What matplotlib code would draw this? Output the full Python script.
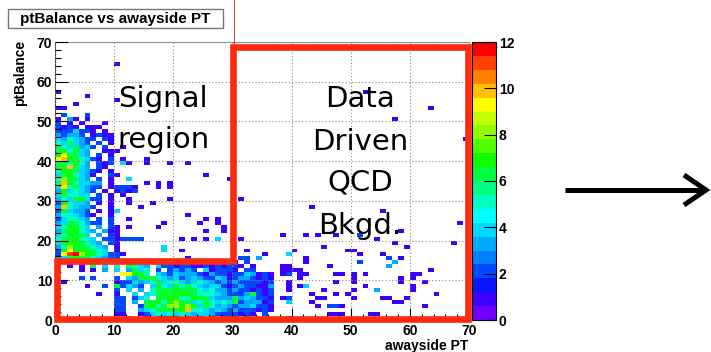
import numpy as np
import matplotlib.pyplot as plt
from matplotlib.colors import ListedColormap, BoundaryNorm
from matplotlib.patches import Rectangle, Polygon
from matplotlib.lines import Line2D

plt.rcParams['font.family'] = ['Liberation Sans', 'DejaVu Sans']
plt.rcParams['font.weight'] = 'bold'

# 2D histogram contents, 70x70 bins of 1 GeV.
# one string per row, top row (ptBalance 69) first, groups of 10 bins split by '|'
# '.' = empty, hex digit = entries (a=10, b=11, c=12)
rows_upper = [
    "", "", "", "", "",
    "|1.........",                          # 64
    "", "", "", "", "", "",
    "1.........|||||..1.......",            # 57
    ".....1....",
    "|1.........",
    "...1......",
    "11........||||||...1......",           # 53
    "",
    ".2...2....",
    "1.31.1....|||||.......1..",            # 50
    "2.1.1...1.",
    "2121.111..",
    "2224221.1.",
    "32332.1211",
    "4354322.21||||||.........1",           # 45
    "546432.2.1",
    "6546342.2.|.1........",
    "675643..11|1.........",
    "796643.2.1",
    "9a765421.2|.1...1....",                # 40
    "765753.212|.41..1...1|..1.......",
    "66a643.21.",
    "57664321.1",
    "4675431..2|1.........|.....1....",
    "586643.2.1|..4.......|.........1",     # 35
    "6a754433.1|.....1.1.1",
    "49564322.1|2221...1.1",
    "3745432.1.|1212......",
    "465544.2.1|.1........",
    "35467422.1|..1......1||.1........",    # 30
    "265443.1.1|..1...1...",
    "3a54332..1|....1.....|||...1......",
    "264332.1.1|4.........||||.....1....",
    "3554321..1||..1.......",
    "245543.2.2|..1.......|.....1.1..",     # 25
    "34665322.2|........1.|....1..1..||||........1.",
    "457654.3.2|1.1....1..|........1.",
    "3667543.31|1.........|.....1..1.|||........1.",
    "457664.3.2|1.........||........1.|..1.1..1..|.2........",
    "5667554.22|12222.....|.1.1.1.4..|.1........||....1.....",   # 20
    "47776543.2|1.........||||.......1..|.......1..",
    "358666543.|1.......4.|||.....1....|.........1",
    "269776654.|1.......4.|.1........|..1.......|1........1|1.........",
    "29bc876542|21........||.....1...4||.1...1....",
    "3467665432|2.........|..1.......|.22.3.....|..1.......|......2.1.",  # 15
]

rows_lower = [
    ".1.2.1242.|3232122332|2223212131|1.2.......|..1.......|.2.....3..",  # 14
    "..1.1.6.4.|5.6543.422|1221121212|21.1....11|......1...|......3...",
    "....1.1.3.|4.3645.2.2|3232.41222|1.22....11|11........||...1......",
    "|.99765.432|4333213221|2243121.12|.11....11.|1.1.......|11........",
    "....2.2...|2.43666543|4234322431|2332121...|.1........|1.......1.|1.........",  # 10
    ".1........|1224345645|5434543232|3222212..1|.......1..|1.......1.|..1.......",
    ".....1..2.|62432.4654|6565434421|2322113..1|.14.......|..1.......|1.........",
    "|2.4.3.5666|7666545332|3221212..1|.....1....|1...3.....|1.........",
    ".......1..|1..4.45676|6776555432|2236212...|...1...1.1||....1.....",
    "|22.245.667|7557664333|6343221.12|....11....|1....11..1",             # 5
    "|22.3.66757|8664565454|6233312..4|...1......|.......11.",
    "|22..267568|8787465343|2334221...|....1.221.||..1.......",
    "|22..345666|67a5543432|3222121...",
    "|11..124545|4543443222|2121.2....|......111.|...11.....",
    "|..1..1.212|1.2.1.1.11|1.1......1",                                  # 0
]

n_bins = 70
signal_pt_cut = 15      # ptBalance
away_pt_cut = 30        # awayside PT
z_max = 12
n_levels = 20

palette = ['#7000ff', '#3c00ff', '#0a14ff', '#0048ff', '#0080ff',
           '#00aaff', '#00d8ff', '#00ffff', '#00ffc0', '#00ff80',
           '#00ff40', '#10ff00', '#50ff00', '#90ff00', '#c8ff00',
           '#ffff00', '#ffc000', '#ff8000', '#ff4000', '#ff0000']

counts = np.zeros((n_bins, n_bins))
for i, row in enumerate(rows_upper + rows_lower):
    y = n_bins - 1 - i
    cells = "".join(g.ljust(10, '.') for g in row.split('|')).ljust(n_bins, '.')
    for x, ch in enumerate(cells):
        if ch != '.':
            counts[y, x] = int(ch, 16)

fig = plt.figure(figsize=(7.11, 3.52), dpi=100)
W, H = 711, 352

ax = fig.add_axes([55 / W, 32 / H, 414 / W, 278 / H])
cmap = ListedColormap(palette)
norm = BoundaryNorm(np.linspace(0, z_max, n_levels + 1), n_levels)
edges = np.arange(n_bins + 1)
mesh = ax.pcolormesh(edges, edges, np.ma.masked_equal(counts, 0),
                     cmap=cmap, norm=norm, zorder=1)

ax.set_xlim(0, 70)
ax.set_ylim(0, 70)
ax.set_xticks(range(0, 71, 10))
ax.set_yticks(range(0, 71, 10))
ax.set_xticks(range(0, 71, 2), minor=True)
ax.set_yticks(range(0, 71, 2), minor=True)
ax.tick_params(which='major', direction='in', length=9, width=0.8, labelsize=10)
ax.tick_params(which='minor', direction='in', length=4.5, width=0.8)
ax.tick_params(axis='x', pad=3)
ax.tick_params(axis='y', pad=2)
ax.set_axisbelow(False)
ax.grid(True, which='major', color='#888888', linestyle=(0, (1, 2)), linewidth=0.8)
for s in ['left', 'bottom']:
    ax.spines[s].set_color('#444444')
for s in ['top', 'right']:
    ax.spines[s].set_color('#999999')

# region outline
red = '#ff2b0f'
outline = [(0.3, signal_pt_cut - 0.1), (away_pt_cut + 0.1, signal_pt_cut - 0.1),
           (away_pt_cut + 0.1, 68.7), (69.8, 68.7), (69.8, 0.25), (0.3, 0.25)]
ax.add_patch(Polygon(outline, closed=True, fill=False, edgecolor=red,
                     linewidth=4.8, joinstyle='miter', clip_on=False, zorder=4))

# colour scale
cax = fig.add_axes([472 / W, 32 / H, 24 / W, 278 / H])
cb = fig.colorbar(mesh, cax=cax, ticks=range(0, z_max + 1, 2))
cb.minorticks_off()
cb.ax.tick_params(direction='in', length=9, width=0.8, labelsize=10, pad=2)
cb.outline.set_linewidth(0.8)

# title box
fig.add_artist(Rectangle((8 / W, (H - 28) / H), 215 / W, 19 / H,
                         transform=fig.transFigure, facecolor='white',
                         edgecolor='#777777', linewidth=1))
fig.text(115.5 / W, (H - 18.5) / H, "ptBalance vs awayside PT",
         ha='center', va='center', fontsize=11)
fig.add_artist(Line2D([234 / W, 234 / W], [(H - 45) / H, 1], color='#d04030', lw=0.7))

fig.text(20 / W, (H - 40) / H, "ptBalance", rotation=90, ha='center', va='top', fontsize=10)
fig.text(468 / W, (H - 346) / H, "awayside PT", ha='right', va='center', fontsize=10)

# hand written notes
note = dict(ha='center', va='baseline', fontsize=21, fontweight='normal',
            family='DejaVu Sans')
fig.text(163 / W, (H - 107) / H, "Signal", **note)
fig.text(164 / W, (H - 148) / H, "region", **note)
for label, base in [("Data", 107), ("Driven", 150), ("QCD", 191), ("Bkgd.", 234)]:
    fig.text(360 / W, (H - base) / H, label, **note)

# arrow to the right
ay = (H - 190) / H
fig.add_artist(Line2D([565 / W, 704 / W], [ay, ay], color='black', lw=3.6,
                      solid_capstyle='butt'))
fig.add_artist(Line2D([684 / W, 706 / W, 684 / W], [(H - 175) / H, ay, (H - 205) / H],
                      color='black', lw=3.6, solid_joinstyle='miter',
                      solid_capstyle='butt'))

fig.savefig("out.png", dpi=100)
